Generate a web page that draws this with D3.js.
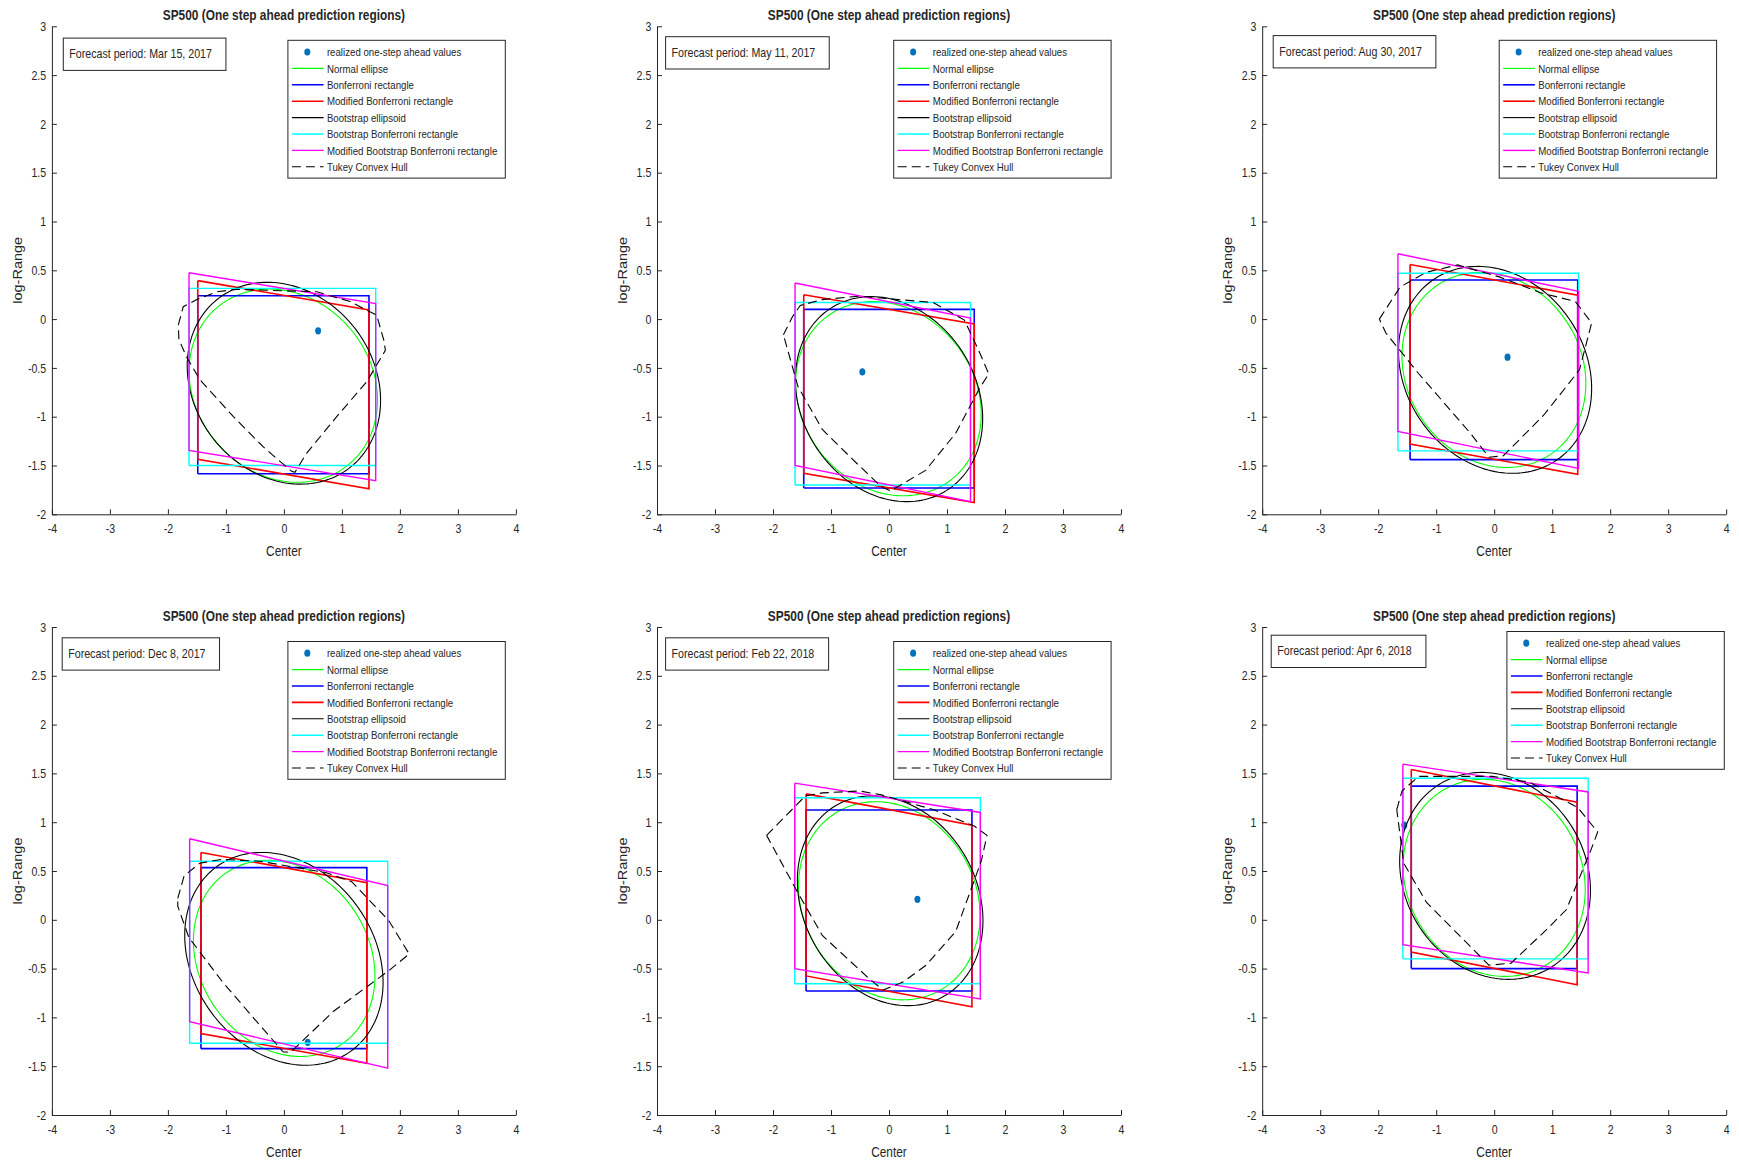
<!DOCTYPE html>
<html>
<head>
<meta charset="utf-8">
<script src="https://cdn.jsdelivr.net/npm/d3@7"></script>
<style>
body { margin: 0; background: #fff; }
text { font-family: "Liberation Sans", Arial, Helvetica, sans-serif; fill: #262626; }
</style>
</head>
<body>
<div id="chart"></div>
<script>
// one panel per forecast date
var periods = ["Mar 15, 2017", "May 11, 2017", "Aug 30, 2017", "Dec 8, 2017", "Feb 22, 2018", "Apr 6, 2018"];

// realized one-step ahead value [center, logRange]
var realized = [[0.59, -0.12], [-0.46, -0.54], [0.23, -0.39], [0.41, -1.255], [0.49, 0.21], [-1.55, 0.97]];

// axis aligned rectangles [x1, x2, y1, y2]
var bonfRect = [
  [-1.485, 1.467, -1.585, 0.24],
  [-1.47, 1.47, -1.73, 0.10],
  [-1.45, 1.44, -1.44, 0.40],
  [-1.43, 1.43, -1.32, 0.535],
  [-1.43, 1.43, -0.73, 1.125],
  [-1.43, 1.43, -0.50, 1.37]
];
var bootBonfRect = [
  [-1.636, 1.583, -1.50, 0.315],
  [-1.62, 1.405, -1.70, 0.17],
  [-1.66, 1.455, -1.35, 0.47],
  [-1.625, 1.79, -1.265, 0.60],
  [-1.625, 1.575, -0.655, 1.25],
  [-1.575, 1.62, -0.40, 1.45]
];

// modified (slanted) rectangles, same x as the matching rectangle: [topLeft, topRight, bottomLeft, bottomRight]
var modBonf = [
  [0.394, 0.093, -1.436, -1.738],
  [0.25, -0.05, -1.58, -1.88],
  [0.56, 0.245, -1.28, -1.59],
  [0.69, 0.38, -1.165, -1.47],
  [1.29, 0.97, -0.575, -0.89],
  [1.54, 1.205, -0.33, -0.665]
];
var modBootBonf = [
  [0.475, 0.16, -1.345, -1.655],
  [0.37, 0.01, -1.50, -1.87],
  [0.67, 0.285, -1.15, -1.53],
  [0.83, 0.35, -1.045, -1.52],
  [1.40, 1.10, -0.50, -0.81],
  [1.595, 1.31, -0.255, -0.545]
];

// ellipses [cx, cy, half width, half height, rho]
var normalEllipse = [
  [-0.01, -0.682, 1.625, 0.99, -0.15],
  [-0.01, -0.815, 1.60, 0.995, -0.16],
  [-0.005, -0.52, 1.585, 1.0, -0.14],
  [0.005, -0.395, 1.565, 1.005, -0.18],
  [0.005, 0.195, 1.565, 1.015, -0.15],
  [0.0, 0.43, 1.57, 1.01, -0.12]
];
var bootEllipse = [
  [0.0, -0.657, 1.667, 1.034, -0.17],
  [0.0, -0.82, 1.615, 1.05, -0.19],
  [0.015, -0.52, 1.665, 1.06, -0.18],
  [0.0, -0.40, 1.71, 1.09, -0.22],
  [0.02, 0.195, 1.60, 1.075, -0.19],
  [0.015, 0.45, 1.645, 1.06, -0.14]
];

// Tukey convex hull vertices
var tukeyHull = [
  [[-1.82,-0.06],[-1.735,0.127],[-1.5,0.2],[-1.16,0.28],[-0.81,0.305],[0.566,0.28],[1.14,0.18],[1.6,0.04],[1.72,-0.21],[1.75,-0.32],[1.43,-0.64],[0.91,-1.0],[0.39,-1.375],[0.19,-1.57],[0.134,-1.56],[-0.355,-1.31],[-0.87,-1.0],[-1.45,-0.62],[-1.68,-0.385],[-1.81,-0.21]],
  [[-1.82,-0.16],[-1.66,0.03],[-1.53,0.14],[-1.15,0.2],[-0.51,0.235],[0.76,0.17],[1.30,-0.01],[1.53,-0.30],[1.72,-0.56],[1.56,-0.71],[1.15,-1.17],[0.63,-1.55],[0.03,-1.76],[-0.13,-1.72],[-0.64,-1.43],[-1.15,-1.13],[-1.57,-0.69]],
  [[-1.98,0.0],[-1.62,0.33],[-1.17,0.48],[-0.63,0.555],[0.10,0.43],[0.80,0.27],[1.40,0.18],[1.68,-0.04],[1.47,-0.52],[0.86,-0.98],[0.16,-1.40],[-0.09,-1.415],[-0.41,-1.17],[-1.30,-0.56],[-1.87,-0.14]],
  [[-1.83,0.22],[-1.72,0.45],[-1.45,0.58],[-1.06,0.62],[-0.42,0.60],[0.72,0.485],[1.17,0.39],[1.81,-0.01],[2.16,-0.35],[1.81,-0.52],[0.85,-0.94],[0.12,-1.355],[-0.01,-1.355],[-0.43,-1.07],[-1.06,-0.635],[-1.64,-0.18],[-1.83,0.14]],
  [[-2.11,0.865],[-1.44,1.27],[-1.15,1.30],[-0.51,1.32],[-0.13,1.28],[0.76,1.13],[1.47,0.96],[1.69,0.865],[1.59,0.60],[1.15,-0.12],[0.64,-0.465],[0.25,-0.635],[-0.10,-0.72],[-0.32,-0.615],[-1.15,-0.16],[-1.57,0.275]],
  [[-1.68,1.13],[-1.59,1.32],[-1.30,1.47],[-0.03,1.47],[0.61,1.41],[1.44,1.15],[1.785,0.90],[1.69,0.75],[1.245,0.105],[0.93,-0.085],[0.29,-0.445],[-0.09,-0.465],[-0.35,-0.31],[-1.17,0.18],[-1.56,0.58]]
];

var xTicks = [-4, -3, -2, -1, 0, 1, 2, 3, 4];
var yTicks = [-2, -1.5, -1, -0.5, 0, 0.5, 1, 1.5, 2, 2.5, 3];
var legendLabels = ["realized one-step ahead values", "Normal ellipse", "Bonferroni rectangle", "Modified Bonferroni rectangle",
  "Bootstrap ellipsoid", "Bootstrap Bonferroni rectangle", "Modified Bootstrap Bonferroni rectangle", "Tukey Convex Hull"];

var titleText = "SP500 (One step ahead prediction regions)";

// layout
var widthsvg = 1739, heightsvg = 1160;
var colX = [51.9, 657, 1262.2];
var rowY = [26.3, 627];
var pw = 464, ph = 488;
var SX = 0.82;           // the figure text is squeezed horizontally
var ink = "#262626";
var boxPos = [[11.4, 11.8], [8.6, 10.4], [11, 9.3], [10.3, 10.8], [8.6, 10.8], [9, 8.2]];
var legPos = [[236, 14], [236.7, 14], [237, 14], [236, 14.5], [236.7, 14.5], [244.7, 4.5]];

var styles = [
  {color: "#0072BD", dot: true},
  {color: "#00ff00", w: 1.1},
  {color: "#0000ff", w: 1.6},
  {color: "#ff0000", w: 1.6},
  {color: "#000000", w: 1.1},
  {color: "#00ffff", w: 1.4},
  {color: "#ff00ff", w: 1.4},
  {color: "#000000", w: 1.1, dash: "9,5"}
];

var svg = d3.select("#chart").append("svg")
  .attr("width", widthsvg)
  .attr("height", heightsvg);

var x = d3.scaleLinear().domain([-4, 4]).range([0, pw]);
var y = d3.scaleLinear().domain([-2, 3]).range([ph, 0]);
var line = d3.line().x(d => x(d[0])).y(d => y(d[1]));

function addText(g, tx, ty, str, size, opts) {
  opts = opts || {};
  var t = g.append("text")
    .attr("transform", `translate(${tx},${ty}) scale(${SX},1)` + (opts.rotate ? ` rotate(${opts.rotate})` : ""))
    .attr("font-size", size)
    .attr("text-anchor", opts.anchor || "start")
    .text(str);
  if (opts.bold) t.attr("font-weight", "bold");
  if (opts.dy) t.attr("dy", opts.dy);
  return t;
}

function ellipsePts(e) {
  var s = Math.sqrt(1 - e[4] * e[4]);
  return d3.range(0, 361, 2).map(function(a) {
    var t = a * Math.PI / 180;
    return [e[0] + e[2] * Math.cos(t), e[1] + e[3] * (e[4] * Math.cos(t) + s * Math.sin(t))];
  });
}

function rectPts(r) {
  return [[r[0], r[2]], [r[1], r[2]], [r[1], r[3]], [r[0], r[3]], [r[0], r[2]]];
}

function slantPts(r, m) {
  return [[r[0], m[0]], [r[1], m[1]], [r[1], m[3]], [r[0], m[2]], [r[0], m[0]]];
}

periods.forEach(function(period, i) {
  var g = svg.append("g")
    .attr("transform", `translate(${colX[i % 3]}, ${rowY[Math.floor(i / 3)]})`);

  // axes
  var ax = g.append("g")
    .attr("transform", `translate(0, ${ph})`)
    .call(d3.axisBottom(x).tickValues(xTicks).tickSizeInner(-5).tickSizeOuter(0).tickPadding(10).tickFormat(d => String(d)));
  var ay = g.append("g")
    .call(d3.axisLeft(y).tickValues(yTicks).tickSizeInner(-5).tickSizeOuter(0).tickPadding(7).tickFormat(d => String(d)));
  [ax, ay].forEach(function(a) {
    a.select(".domain").attr("stroke", ink);
    a.selectAll(".tick line").attr("stroke", ink);
    a.selectAll(".tick text")
      .attr("font-size", 12.9)
      .attr("font-family", null)
      .attr("fill", ink)
      .attr("transform", `scale(${SX},1)`);
  });

  // marks, in legend order
  g.append("ellipse")
    .attr("cx", x(realized[i][0])).attr("cy", y(realized[i][1]))
    .attr("rx", 3).attr("ry", 3.6)
    .attr("fill", styles[0].color);

  var shapes = [
    ellipsePts(normalEllipse[i]),
    rectPts(bonfRect[i]),
    slantPts(bonfRect[i], modBonf[i]),
    ellipsePts(bootEllipse[i]),
    rectPts(bootBonfRect[i]),
    slantPts(bootBonfRect[i], modBootBonf[i]),
    tukeyHull[i].concat([tukeyHull[i][0]])
  ];
  shapes.forEach(function(pts, k) {
    var st = styles[k + 1];
    g.append("path")
      .attr("d", line(pts))
      .attr("fill", "none")
      .attr("stroke", st.color)
      .attr("stroke-width", st.w)
      .attr("stroke-dasharray", st.dash || null)
      .attr("stroke-linejoin", "miter");
  });

  // title and labels
  addText(g, pw / 2, -6, titleText, 14.5, {anchor: "middle", bold: true});
  addText(g, pw / 2, ph + 41.7, "Center", 14.5, {anchor: "middle"});
  addText(g, -30, ph / 2, "log-Range", 14.5, {anchor: "middle", rotate: -90});

  // forecast period box
  var bx = g.append("g").attr("transform", `translate(${boxPos[i][0]}, ${boxPos[i][1]})`);
  var bt = addText(bx, 6, 20, "Forecast period: " + period, 13);
  var bw = bt.node().getBBox().width * SX + 20;
  bx.insert("rect", "text")
    .attr("width", bw).attr("height", 32.3)
    .attr("fill", "#fff").attr("stroke", ink).attr("stroke-width", 1);

  // legend
  var lg = g.append("g").attr("transform", `translate(${legPos[i][0]}, ${legPos[i][1]})`);
  lg.append("rect")
    .attr("width", 217.4).attr("height", 137.8)
    .attr("fill", "#fff").attr("stroke", ink).attr("stroke-width", 1);
  legendLabels.forEach(function(lab, k) {
    var ry = 11.7 + k * 16.4;
    var st = styles[k];
    if (st.dot) {
      lg.append("ellipse").attr("cx", 19.4).attr("cy", ry).attr("rx", 3).attr("ry", 3.6).attr("fill", st.color);
    } else {
      lg.append("line")
        .attr("x1", 4).attr("x2", 35.7).attr("y1", ry).attr("y2", ry)
        .attr("stroke", st.color).attr("stroke-width", st.w)
        .attr("stroke-dasharray", st.dash || null);
    }
    addText(lg, 39, ry, lab, 11.8, {dy: "0.35em"});
  });
});
</script>
</body>
</html>
